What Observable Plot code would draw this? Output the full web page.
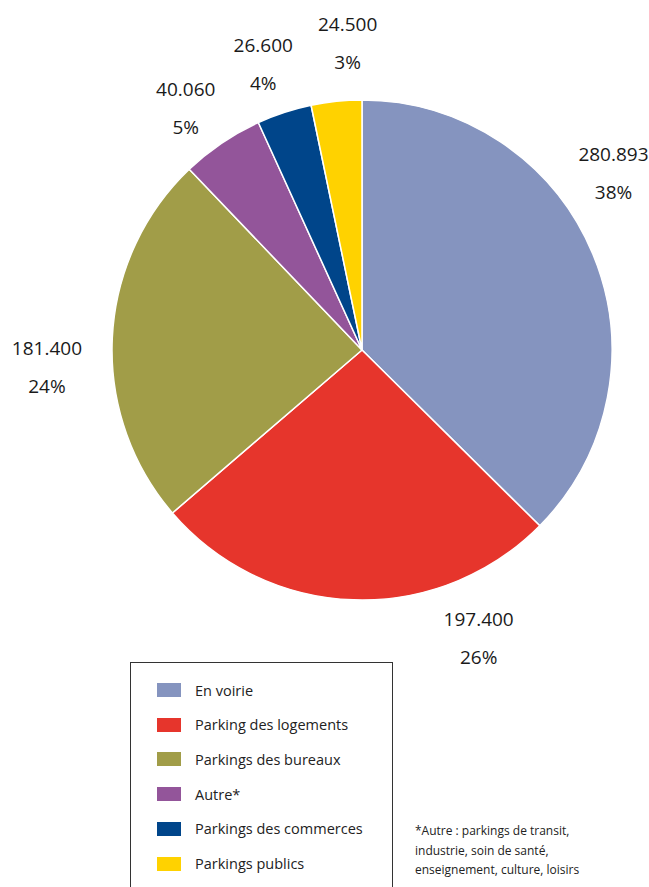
<!DOCTYPE html>
<html>
<head>
<meta charset="utf-8">
<script src="https://cdn.jsdelivr.net/npm/d3@7"></script>
<script src="https://cdn.jsdelivr.net/npm/@observablehq/plot@0.6"></script>
<style>
  html, body { margin: 0; padding: 0; background: #fff; }
  body { font-family: "Open Sans", sans-serif; color: #1a1a1a; }
  #wrap { position: relative; width: 649px; height: 887px; overflow: hidden; }
  #chart { position: absolute; left: 0; top: 0; }
  #legend { position: absolute; left: 130px; top: 662px; width: 263px; height: 240px;
            border: 1px solid #333; box-sizing: border-box; }
  .row { position: absolute; left: 26px; display: flex; align-items: center; height: 20px;
         font-size: 14.5px; color: #222; }
  .sw { width: 24px; height: 14px; margin-right: 14px; }
  #note { position: absolute; left: 415px; top: 821px; font-size: 12px; line-height: 19.5px; color: #222; }
</style>
</head>
<body>
<div id="wrap">
  <div id="chart"></div>
  <div id="legend"></div>
  <div id="note">*Autre : parkings de transit,<br>industrie, soin de santé,<br>enseignement, culture, loisirs</div>
</div>
<script>
// ---- data ----
const categories = ["En voirie", "Parking des logements", "Parkings des bureaux", "Autre*", "Parkings des commerces", "Parkings publics"];
const values = [280893, 197400, 181400, 40060, 26600, 24500];
const pctLabels = ["38%", "26%", "24%", "5%", "4%", "3%"];
const colors = ["#8594bf", "#e6352c", "#a19d48", "#93559a", "#00458a", "#ffd200"];

// ---- layout ----
const W = 649, H = 690;
const cx = 362, cy = 350, R = 250;
const labelRadius = [307, 310, 316, 300, 303, 308];         // px from centre, manual placement
const labelAngleNudge = [-12.5, -24, -5.9, -2, -1, 3.1];   // degrees from slice mid-angle

const fmt = d3.formatLocale({decimal: ",", thousands: ".", grouping: [3]}).format(",d");

const data = categories.map((c, i) => ({category: c, value: values[i], pct: pctLabels[i], color: colors[i]}));
const arcs = d3.pie().sort(null).value(d => d.value)(data);
const labels = arcs.map((a, i) => {
  const mid = (a.startAngle + a.endAngle) / 2 + labelAngleNudge[i] * Math.PI / 180;
  return {
    x: cx + labelRadius[i] * Math.sin(mid),
    y: cy - labelRadius[i] * Math.cos(mid),
    text: fmt(a.data.value) + "\n" + a.data.pct
  };
});

const pieMark = (index, scales) => {
  const g = d3.create("svg:g");
  const arc = d3.arc().innerRadius(0).outerRadius(R);
  g.attr("transform", `translate(${scales.x(cx)},${scales.y(cy)})`);
  g.selectAll("path").data(arcs).join("path")
    .attr("d", arc)
    .attr("fill", d => d.data.color)
    .attr("stroke", "#fff")
    .attr("stroke-width", 1.5)
    .attr("stroke-linejoin", "round");
  return g.node();
};

const chart = Plot.plot({
  width: W, height: H,
  margin: 0,
  x: {type: "linear", domain: [0, W], range: [0, W], axis: null},
  y: {type: "linear", domain: [0, H], range: [0, H], axis: null},
  style: {fontFamily: "Open Sans, sans-serif", background: "transparent"},
  marks: [
    pieMark,
    Plot.text(labels, {x: "x", y: "y", text: "text", fontSize: 19, lineHeight: 2.0, dy: -5.5, fill: "#1a1a1a", textAnchor: "middle"})
  ]
});
document.getElementById("chart").appendChild(chart);

// legend
const legend = d3.select("#legend");
data.forEach((d, i) => {
  const row = legend.append("div").attr("class", "row").style("top", (17 + i * 34.7) + "px");
  row.append("div").attr("class", "sw").style("background", d.color);
  row.append("span").text(d.category);
});
</script>
</body>
</html>
